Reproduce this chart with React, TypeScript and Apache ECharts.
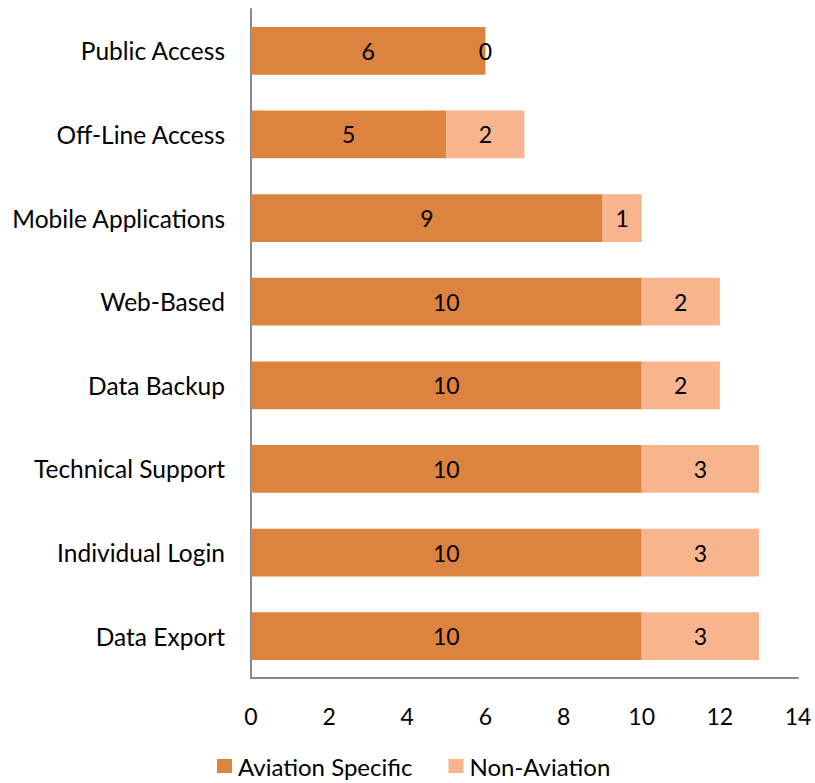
import React, { useEffect, useRef } from "react";
import * as echarts from "echarts";

const categories = [
  "Public Access",
  "Off-Line Access",
  "Mobile Applications",
  "Web-Based",
  "Data Backup",
  "Technical Support",
  "Individual Login",
  "Data Export",
];
const aviationSpecific = [6, 5, 9, 10, 10, 10, 10, 10];
const nonAviation = [0, 2, 1, 2, 2, 3, 3, 3];
const seriesNames = ["Aviation Specific", "Non-Aviation"];

const FONT = "Lato, 'Open Sans', sans-serif";

export default function App() {
  const ref = useRef<HTMLDivElement>(null);
  useEffect(() => {
    document.body.style.margin = "0";
    document.body.style.overflow = "hidden";
    if (!ref.current) return;
    const chart = echarts.init(ref.current, undefined, { renderer: "svg" });
    const label = {
      show: true,
      position: "inside",
      color: "#000",
      fontSize: 23,
      fontFamily: FONT,
    };
    chart.setOption({
      animation: false,
      textStyle: { fontFamily: FONT },
      grid: { left: 251, right: 17, top: 9, bottom: 105, containLabel: false },
      legend: {
        top: 749,
        left: 212,
        padding: 5,
        itemWidth: 15,
        itemHeight: 14,
        itemGap: 36,
        icon: "rect",
        textStyle: { fontSize: 24, color: "#000", fontFamily: FONT, padding: [0, 0, 0, 1] },
        data: seriesNames,
      },
      xAxis: {
        type: "value",
        min: 0,
        max: 14,
        interval: 2,
        axisLine: { show: true, lineStyle: { color: "#898989", width: 2 } },
        axisTick: { show: false },
        splitLine: { show: false },
        axisLabel: { color: "#000", fontSize: 23, margin: 26, fontFamily: FONT },
      },
      yAxis: {
        type: "category",
        inverse: true,
        data: categories,
        axisLine: { show: true, lineStyle: { color: "#898989", width: 2 } },
        axisTick: { show: false },
        axisLabel: { color: "#000", fontSize: 24.5, margin: 26, fontFamily: FONT },
      },
      series: [
        {
          name: seriesNames[0],
          type: "bar",
          stack: "total",
          data: aviationSpecific,
          barCategoryGap: "43%",
          itemStyle: { color: "#DC843F" },
          label,
        },
        {
          name: seriesNames[1],
          type: "bar",
          stack: "total",
          data: nonAviation,
          barCategoryGap: "43%",
          itemStyle: { color: "#F8B48D" },
          label,
        },
      ],
    });
    return () => chart.dispose();
  }, []);
  return <div ref={ref} style={{ width: 815, height: 783 }} />;
}
